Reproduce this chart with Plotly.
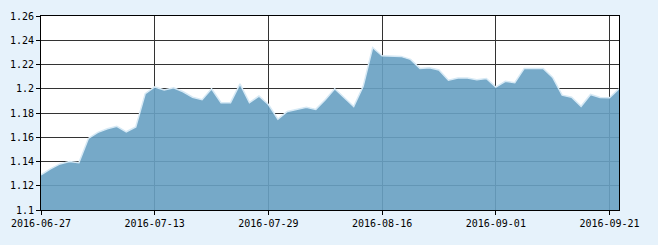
import plotly.graph_objects as go

dates = [
    "2016-06-27", "2016-06-28", "2016-06-29", "2016-06-30",
    "2016-07-01", "2016-07-04", "2016-07-05", "2016-07-06", "2016-07-07", "2016-07-08",
    "2016-07-11", "2016-07-12", "2016-07-13", "2016-07-14", "2016-07-15",
    "2016-07-18", "2016-07-19", "2016-07-20", "2016-07-21", "2016-07-22",
    "2016-07-25", "2016-07-26", "2016-07-27", "2016-07-28", "2016-07-29",
    "2016-08-01", "2016-08-02", "2016-08-03", "2016-08-04", "2016-08-05",
    "2016-08-08", "2016-08-09", "2016-08-10", "2016-08-11", "2016-08-12",
    "2016-08-15", "2016-08-16", "2016-08-17", "2016-08-18", "2016-08-19",
    "2016-08-22", "2016-08-23", "2016-08-24", "2016-08-25", "2016-08-26",
    "2016-08-29", "2016-08-30", "2016-08-31",
    "2016-09-01", "2016-09-02", "2016-09-05", "2016-09-06", "2016-09-07",
    "2016-09-08", "2016-09-09", "2016-09-12", "2016-09-13", "2016-09-14",
    "2016-09-19", "2016-09-20", "2016-09-21", "2016-09-22",
]

values = [
    1.129, 1.134, 1.138, 1.140, 1.139, 1.159, 1.164, 1.167, 1.169, 1.1645,
    1.1685, 1.196, 1.2015, 1.199, 1.2008, 1.1975, 1.193, 1.191, 1.200, 1.1885,
    1.1885, 1.204, 1.1885, 1.194, 1.187, 1.175, 1.1813, 1.1832, 1.1848, 1.183,
    1.191, 1.200, 1.193, 1.1853, 1.202, 1.234, 1.2272, 1.2272, 1.2267, 1.2242,
    1.2168, 1.2173, 1.2155, 1.207, 1.2088, 1.2088, 1.2075, 1.2085, 1.2013, 1.2061,
    1.205, 1.2168, 1.2165, 1.2168, 1.2093, 1.1947, 1.193, 1.1855, 1.1953, 1.1928,
    1.1925, 1.200,
]

tick_dates = ["2016-06-27", "2016-07-13", "2016-07-29", "2016-08-16", "2016-09-01", "2016-09-21"]
y_ticks = [1.1, 1.12, 1.14, 1.16, 1.18, 1.2, 1.22, 1.24, 1.26]

fig = go.Figure(
    go.Scatter(
        x=dates,
        y=values,
        mode="lines",
        fill="tozeroy",
        fillcolor="rgba(104,161,194,0.91)",
        line=dict(color="#d6e9f5", width=1.5),
        hoverinfo="x+y",
    )
)

font = dict(family="DejaVu Sans Mono", size=10, color="#000000")

fig.update_layout(
    width=658,
    height=245,
    margin=dict(l=38, r=39, t=10, b=35),
    paper_bgcolor="#e6f2fb",
    plot_bgcolor="#ffffff",
    showlegend=False,
    font=font,
)

fig.update_xaxes(
    type="category",
    range=[0, len(dates) - 1],
    tickmode="array",
    tickvals=tick_dates,
    ticktext=tick_dates,
    showgrid=True,
    gridcolor="#333333",
    gridwidth=1,
    showline=True,
    linecolor="#000000",
    linewidth=1,
    mirror=True,
    ticks="outside",
    ticklen=4,
    tickcolor="#000000",
    tickfont=font,
    zeroline=False,
)

fig.update_yaxes(
    range=[1.1, 1.26],
    tickmode="array",
    tickvals=y_ticks,
    showgrid=True,
    gridcolor="#333333",
    gridwidth=1,
    showline=True,
    linecolor="#000000",
    linewidth=1,
    mirror=True,
    ticks="outside",
    ticklen=4,
    tickcolor="#000000",
    tickfont=font,
    zeroline=False,
)

fig.write_html("out.html")
